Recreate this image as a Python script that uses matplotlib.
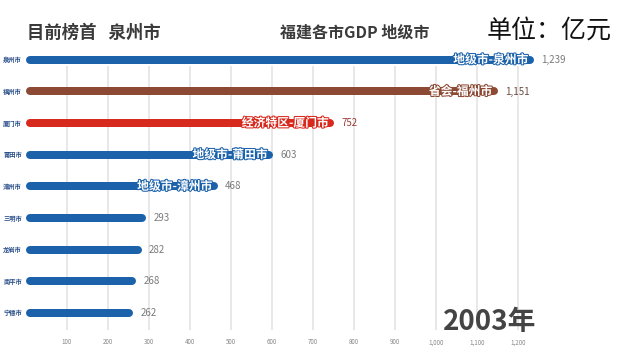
# 福建各市GDP 2003年 bar chart race frame
import matplotlib.pyplot as plt
import matplotlib.patheffects as pe

plt.rcParams['font.family'] = ['Noto Sans CJK SC', 'DejaVu Sans']

# Data
cities = ['泉州市', '福州市', '厦门市', '莆田市', '漳州市', '三明市', '龙岩市', '南平市', '宁德市']
gdp = [1239, 1151, 752, 603, 468, 293, 282, 268, 262]
tags = ['地级市-泉州市', '省会-福州市', '经济特区-厦门市', '地级市-莆田市', '地级市-漳州市', '', '', '', '']
colors = ['#1b62ab', '#8c4a35', '#d7291d', '#1b62ab', '#1b62ab', '#1b62ab', '#1b62ab', '#1b62ab', '#1b62ab']
value_colors = ['#7a7a7a', '#6a4a40', '#9b3a35', '#7a7a7a', '#7a7a7a', '#7a7a7a', '#7a7a7a', '#7a7a7a', '#7a7a7a']
xticks = [100, 200, 300, 400, 500, 600, 700, 800, 900, 1000, 1100, 1200]

fig = plt.figure(figsize=(6.4, 3.61), dpi=100)
fig.patch.set_facecolor('white')
ax = fig.add_axes([26 / 640, 31 / 361, 594 / 640, 285 / 361])

ax.set_xlim(0, 1449)
ax.set_ylim(8.54, -0.47)

# grid lines
ax.vlines(xticks, 0.2, 8.54, color='#e4e4e4', linewidth=1.2, zorder=0)

bar_px = 8.0  # bar thickness in pixels
lw = bar_px * 72 / 100
cap = 4.0 / 0.41  # half thickness in data units (0.41 px per unit)

for i, (c, v) in enumerate(zip(cities, gdp)):
    ax.plot([cap, v - cap], [i, i], color=colors[i], linewidth=lw,
            solid_capstyle='round', zorder=2)
    if tags[i]:
        ax.text(v - 14, i, tags[i], ha='right', va='center', fontsize=8.5,
                fontweight='bold', color='white', zorder=3,
                path_effects=[pe.withStroke(linewidth=1.5, foreground=colors[i])])
    ax.text(v + 18, i, '{:,}'.format(v), ha='left', va='center', fontsize=7,
            color=value_colors[i], zorder=3)
    ax.text(-4 / 0.41, i, c, ha='right', va='center', fontsize=4.5,
            color='#2a4f8a', fontweight='bold')

ax.set_xticks(xticks)
ax.set_xticklabels(['{:,}'.format(t) for t in xticks], fontsize=4.5, color='#888888')
ax.tick_params(axis='x', length=0, pad=6)
ax.set_yticks([])
for s in ax.spines.values():
    s.set_visible(False)

# titles
fig.text(27 / 640, 1 - 33 / 361, '目前榜首   泉州市', fontsize=12.5, fontweight='bold',
         color='#3a3a3a', va='center', ha='left')
fig.text(280 / 640, 1 - 33 / 361, '福建各市GDP 地级市', fontsize=11.5, fontweight='bold',
         color='#3a3a3a', va='center', ha='left')
fig.text(487 / 640, 1 - 31 / 361, '单位：亿元', fontsize=18, color='#111111',
         va='center', ha='left')
fig.text(490 / 640, 1 - 322 / 361, '2003年', fontsize=20, fontweight='bold',
         color='#444444', va='center', ha='center')

fig.savefig('out.png', dpi=100)
